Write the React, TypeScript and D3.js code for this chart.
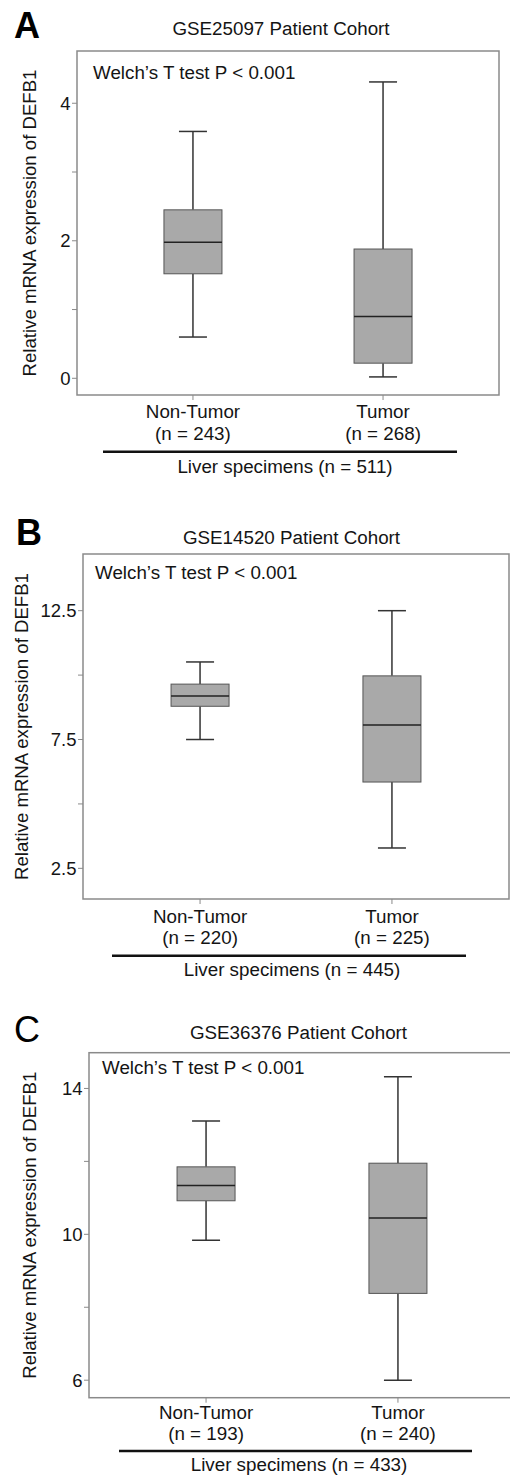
import React from "react";
import * as d3 from "d3";

// ---------- Data ----------
const panelLetters = ["A", "B", "C"];
const cohortTitles = ["GSE25097 Patient Cohort", "GSE14520 Patient Cohort", "GSE36376 Patient Cohort"];
const categories = ["Non-Tumor", "Tumor"];
const testLabel = "Welch\u2019s T test P < 0.001";
const yAxisTitle = "Relative mRNA expression of DEFB1";

// sample sizes [Non-Tumor, Tumor]
const sampleSizesA = [243, 268];
const sampleSizesB = [220, 225];
const sampleSizesC = [193, 240];
const totalSizes = [511, 445, 433];

// box stats: [lower whisker, Q1, median, Q3, upper whisker]
const statsA_nonTumor = [0.6, 1.52, 1.98, 2.45, 3.59];
const statsA_tumor = [0.02, 0.22, 0.9, 1.88, 4.31];
const statsB_nonTumor = [7.5, 8.79, 9.19, 9.65, 10.51];
const statsB_tumor = [3.29, 5.85, 8.06, 9.97, 12.5];
const statsC_nonTumor = [9.84, 10.92, 11.34, 11.85, 13.11];
const statsC_tumor = [6.0, 8.38, 10.45, 11.95, 14.32];

// axis domains and ticks
const domainA = [-0.243, 4.76];
const domainB = [1.31, 14.7];
const domainC = [5.52, 14.98];
const majorTicksA = [0, 2, 4];
const minorTicksA = [1, 3];
const majorTicksB = [2.5, 7.5, 12.5];
const minorTicksB = [5, 10];
const majorTicksC = [6, 10, 14];
const minorTicksC = [8, 12];
const tickFormatB = (v: number) => v.toFixed(1);
const tickFormatInt = (v: number) => String(v);

// ---------- Layout ----------
const FONT = "'Liberation Sans', Arial, Helvetica, sans-serif";

type Layout = {
  left: number; right: number; top: number; bottom: number;
  letterX: number; letterY: number; letterWeight: string;
  titleX: number; titleY: number;
  testX: number; testY: number;
  yTitleX: number;
  catY1: number; catY2: number;
  lineX1: number; lineX2: number; lineY: number;
  liverX: number; liverY: number;
};

const layouts: Layout[] = [
  { left: 77, right: 499, top: 51, bottom: 395, letterX: 14, letterY: 38, letterWeight: "bold",
    titleX: 281, titleY: 35, testX: 93, testY: 79, yTitleX: 36,
    catY1: 418, catY2: 440, lineX1: 103, lineX2: 457, lineY: 451.7, liverX: 285, liverY: 472.5 },
  { left: 83, right: 509, top: 554, bottom: 899, letterX: 16, letterY: 545, letterWeight: "bold",
    titleX: 291.5, titleY: 544, testX: 95, testY: 578.5, yTitleX: 28,
    catY1: 922.5, catY2: 944.3, lineX1: 112, lineX2: 466, lineY: 955.7, liverX: 292, liverY: 976 },
  { left: 89, right: 515, top: 1052.7, bottom: 1397.7, letterX: 14, letterY: 1042, letterWeight: "normal",
    titleX: 298.5, titleY: 1039, testX: 102, testY: 1074, yTitleX: 36,
    catY1: 1419, catY2: 1440, lineX1: 119, lineX2: 472, lineY: 1451, liverX: 299, liverY: 1470.5 },
];

type PanelProps = {
  idx: number;
  title: string;
  sizes: number[];
  total: number;
  stats: number[][];
  domain: number[];
  major: number[];
  minor: number[];
  fmt: (v: number) => string;
};

const BOX_W = 58;
const CAP_W = 28;
const TEXT_SIZE = 18.8;
const TICK_SIZE = 18.5;
const YTITLE_SIZE = 18.6;

function Panel({ idx, title, sizes, total, stats, domain, major, minor, fmt }: PanelProps) {
  const L = layouts[idx];
  const y = d3.scaleLinear().domain(domain).range([L.bottom, L.top]);
  const x = d3.scalePoint<string>().domain(categories).range([L.left, L.right]).padding(0.61);
  const clipId = `clip-${idx}`;
  const frame = "#8a8a8a";
  const ink = "#141414";
  return (
    <g>
      <defs>
        <clipPath id={clipId}>
          <rect x={0} y={L.top - 5} width={510} height={L.bottom - L.top + 10} />
        </clipPath>
      </defs>
      <text x={L.letterX} y={L.letterY} fontSize={36} fontWeight={L.letterWeight} fill="#000" fontFamily={FONT}>
        {panelLetters[idx]}
      </text>
      <text x={L.titleX} y={L.titleY} fontSize={TEXT_SIZE} textAnchor="middle" fill={ink} fontFamily={FONT}>
        {title}
      </text>
      {/* frame */}
      <rect x={L.left} y={L.top} width={L.right - L.left} height={L.bottom - L.top}
        fill="none" stroke={frame} strokeWidth={1.5} />
      <text x={L.testX} y={L.testY} fontSize={TEXT_SIZE} fill={ink} fontFamily={FONT}>{testLabel}</text>
      {/* y ticks */}
      {major.map((t) => (
        <g key={`M${t}`}>
          <line x1={L.left - 5} x2={L.left} y1={y(t)} y2={y(t)} stroke={frame} strokeWidth={1} />
          <text x={L.left - 6.5} y={y(t)} dy="0.35em" fontSize={TICK_SIZE} textAnchor="end" fill={ink} fontFamily={FONT}>
            {fmt(t)}
          </text>
        </g>
      ))}
      {minor.map((t) => (
        <line key={`m${t}`} x1={L.left - 5} x2={L.left} y1={y(t)} y2={y(t)} stroke={frame} strokeWidth={1} />
      ))}
      {/* y title */}
      <text transform={`translate(${L.yTitleX},${(L.top + L.bottom) / 2}) rotate(-90)`} textAnchor="middle"
        fontSize={YTITLE_SIZE} fill={ink} fontFamily={FONT}>
        {yAxisTitle}
      </text>
      {/* boxes */}
      <g clipPath={`url(#${clipId})`}>
        {categories.map((c, i) => {
          const s = stats[i];
          const cx = x(c) as number;
          return (
            <g key={c}>
              <line x1={cx} x2={cx} y1={y(s[0])} y2={y(s[1])} stroke="#333" strokeWidth={1.5} />
              <line x1={cx} x2={cx} y1={y(s[3])} y2={y(s[4])} stroke="#333" strokeWidth={1.5} />
              <line x1={cx - CAP_W / 2} x2={cx + CAP_W / 2} y1={y(s[0])} y2={y(s[0])} stroke="#333" strokeWidth={1.5} />
              <line x1={cx - CAP_W / 2} x2={cx + CAP_W / 2} y1={y(s[4])} y2={y(s[4])} stroke="#333" strokeWidth={1.5} />
              <rect x={cx - BOX_W / 2} y={y(s[3])} width={BOX_W} height={y(s[1]) - y(s[3])}
                fill="#a9a9a9" stroke="#555" strokeWidth={1} />
              <line x1={cx - BOX_W / 2} x2={cx + BOX_W / 2} y1={y(s[2])} y2={y(s[2])} stroke="#222" strokeWidth={1.5} />
            </g>
          );
        })}
      </g>
      {/* x ticks & labels */}
      {categories.map((c, i) => {
        const cx = x(c) as number;
        return (
          <g key={`x${c}`}>
            <line x1={cx} x2={cx} y1={L.bottom} y2={L.bottom + 5} stroke={frame} strokeWidth={1} />
            <text x={cx} y={L.catY1} fontSize={TEXT_SIZE} textAnchor="middle" fill={ink} fontFamily={FONT}>{c}</text>
            <text x={cx} y={L.catY2} fontSize={TEXT_SIZE} textAnchor="middle" fill={ink} fontFamily={FONT}>
              {`(n = ${sizes[i]})`}
            </text>
          </g>
        );
      })}
      <line x1={L.lineX1} x2={L.lineX2} y1={L.lineY} y2={L.lineY} stroke="#111" strokeWidth={2.6} />
      <text x={L.liverX} y={L.liverY} fontSize={TEXT_SIZE} textAnchor="middle" fill={ink} fontFamily={FONT}>
        {`Liver specimens (n = ${total})`}
      </text>
    </g>
  );
}

export default function App() {
  return (
    <svg width={510} height={1477} style={{ position: "absolute", left: 0, top: 0, background: "#fff" }}>
      <rect width={510} height={1477} fill="#fff" />
      <Panel idx={0} title={cohortTitles[0]} sizes={sampleSizesA} total={totalSizes[0]}
        stats={[statsA_nonTumor, statsA_tumor]} domain={domainA} major={majorTicksA} minor={minorTicksA} fmt={tickFormatInt} />
      <Panel idx={1} title={cohortTitles[1]} sizes={sampleSizesB} total={totalSizes[1]}
        stats={[statsB_nonTumor, statsB_tumor]} domain={domainB} major={majorTicksB} minor={minorTicksB} fmt={tickFormatB} />
      <Panel idx={2} title={cohortTitles[2]} sizes={sampleSizesC} total={totalSizes[2]}
        stats={[statsC_nonTumor, statsC_tumor]} domain={domainC} major={majorTicksC} minor={minorTicksC} fmt={tickFormatInt} />
    </svg>
  );
}
